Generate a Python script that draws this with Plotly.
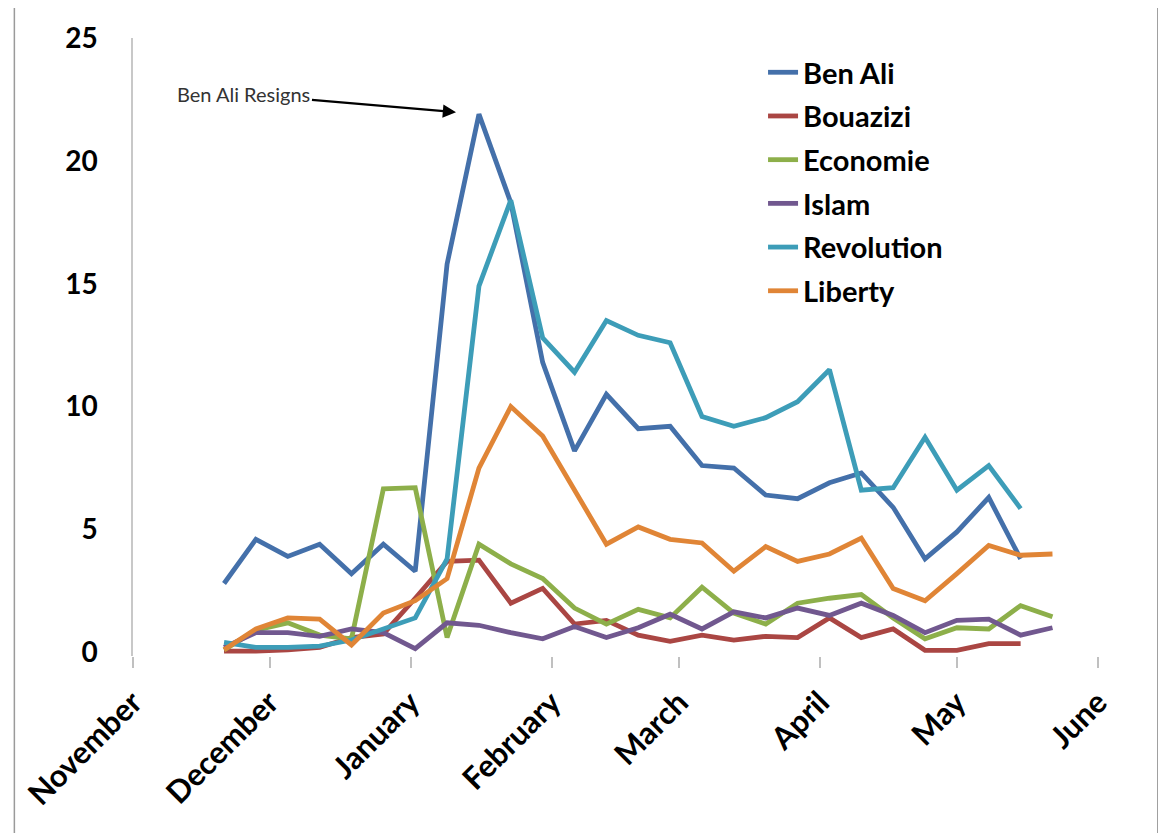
import plotly.graph_objects as go
import pandas as pd

# ---- data (weekly, starting 21 Nov 2010) ----
start_date = "2010-11-21"
ben_ali = [2.8, 4.6, 3.9, 4.4, 3.2, 4.4, 3.3, 15.8, 21.9, 18.3, 11.8, 8.2, 10.5, 9.1, 9.2,
           7.6, 7.5, 6.4, 6.25, 6.9, 7.3, 5.9, 3.8, 4.9, 6.3, 3.8]
bouazizi = [0.05, 0.05, 0.1, 0.2, 0.6, 0.75, 2.2, 3.7, 3.75, 2.0, 2.6, 1.15, 1.3, 0.7, 0.45,
            0.7, 0.5, 0.65, 0.6, 1.4, 0.6, 0.95, 0.08, 0.08, 0.35, 0.35]
economie = [0.1, 0.9, 1.2, 0.7, 0.55, 6.65, 6.7, 0.6, 4.4, 3.6, 3.0, 1.8, 1.15, 1.75, 1.4,
            2.65, 1.6, 1.15, 2.0, 2.2, 2.35, 1.4, 0.55, 1.0, 0.95, 1.9, 1.45]
islam = [0.2, 0.8, 0.8, 0.65, 0.95, 0.8, 0.15, 1.2, 1.1, 0.8, 0.55, 1.05, 0.6, 1.0, 1.55,
         0.95, 1.65, 1.4, 1.8, 1.5, 2.0, 1.5, 0.8, 1.3, 1.35, 0.7, 1.0]
revolution = [0.4, 0.2, 0.2, 0.25, 0.5, 0.95, 1.4, 3.8, 14.9, 18.4, 12.8, 11.4, 13.5, 12.9, 12.6,
              9.6, 9.2, 9.55, 10.2, 11.5, 6.6, 6.7, 8.75, 6.6, 7.6, 5.85]
liberty = [0.1, 0.95, 1.4, 1.35, 0.3, 1.6, 2.1, 3.0, 7.5, 10.0, 8.8, 6.6, 4.4, 5.1, 4.6,
           4.45, 3.3, 4.3, 3.7, 4.0, 4.65, 2.6, 2.1, 3.2, 4.35, 3.95, 4.0]

series_names = ["Ben Ali", "Bouazizi", "Economie", "Islam", "Revolution", "Liberty"]
series_values = [ben_ali, bouazizi, economie, islam, revolution, liberty]
series_colors = ["#4470AA", "#AA4643", "#8DAF4A", "#71588F", "#3D9DB8", "#E08536"]

month_ticks = ["2010-11-01", "2010-12-01", "2011-01-01", "2011-02-01", "2011-03-01",
               "2011-04-01", "2011-05-01", "2011-06-01"]
month_labels = ["November", "December", "January", "February", "March", "April", "May", "June"]
y_ticks = [0, 5, 10, 15, 20, 25]

annotation_text = "Ben Ali Resigns"

# ---- figure ----
OFF = 8  # page body margin in the browser
W, H = 1166, 833
# plot area in screen pixels: x 130..1098, y(25)=32, y(-0.15)=655.7
L = 130 - OFF
R = W - (1098 - OFF)
T = 32 - OFF
B = H - (655.7 - OFF)

fig = go.Figure()
for i, (name, vals, col) in enumerate(zip(series_names, series_values, series_colors)):
    dates = pd.date_range(start_date, periods=len(vals), freq="7D")
    fig.add_trace(go.Scatter(
        x=dates, y=vals, name=name, mode="lines",
        line=dict(color=col, width=4.8),
        legendgroup=f"g{i}",
    ))

# annotation pointing at Ben Ali peak
peak_i = max(range(len(ben_ali)), key=lambda k: ben_ali[k])
peak_date = pd.date_range(start_date, periods=len(ben_ali), freq="7D")[peak_i]
fig.add_annotation(
    x=peak_date, y=ben_ali[peak_i], text=annotation_text,
    showarrow=True, ax=-235, ay=-20, standoff=23,
    arrowhead=2, arrowsize=1.2, arrowwidth=2.2, arrowcolor="#000000",
    font=dict(family="Lato", size=20, color="#333333"),
)

def sx(px):  # screen x -> paper
    return (px - OFF - L) / (W - L - R)

def sy(py):  # screen y -> paper
    return (H - B - (py - OFF)) / (H - T - B)

# outer chart border (left and right edges)
for xp in (11, 1158):
    fig.add_shape(type="line", xref="paper", yref="paper",
                  x0=sx(xp), x1=sx(xp), y0=sy(900), y1=sy(-10),
                  line=dict(color="#9a9a9a", width=1.5))

fig.update_layout(
    width=W, height=H,
    margin=dict(l=L, r=R, t=T, b=B),
    paper_bgcolor="white", plot_bgcolor="white",
    font=dict(family="Lato", color="#000000"),
    showlegend=True,
    legend=dict(
        x=sx(762), y=sy(41), xanchor="left", yanchor="top",
        font=dict(family="Lato", size=29, color="#000000", weight="bold"),
        bgcolor="rgba(0,0,0,0)", tracegroupgap=3, itemwidth=30,
    ),
)
fig.update_xaxes(
    type="date", range=["2010-11-01", "2011-06-01"],
    tickvals=month_ticks, ticktext=month_labels, tickangle=-45,
    tickfont=dict(family="Lato", size=31, color="#000000", weight="bold"),
    ticks="outside", ticklen=11, tickcolor="#c0c0c0", tickwidth=1.5,
    showgrid=False, showline=False, zeroline=False,
    ticklabelstandoff=4,
)
fig.update_yaxes(
    range=[-0.15, 25], tickvals=y_ticks,
    tickfont=dict(family="Lato", size=28, color="#000000", weight="bold"),
    ticks="", showgrid=False, zeroline=False,
    showline=True, linecolor="#c8c8c8", linewidth=1.5,
    ticklabelstandoff=28,
)

fig.write_html("out.html")
